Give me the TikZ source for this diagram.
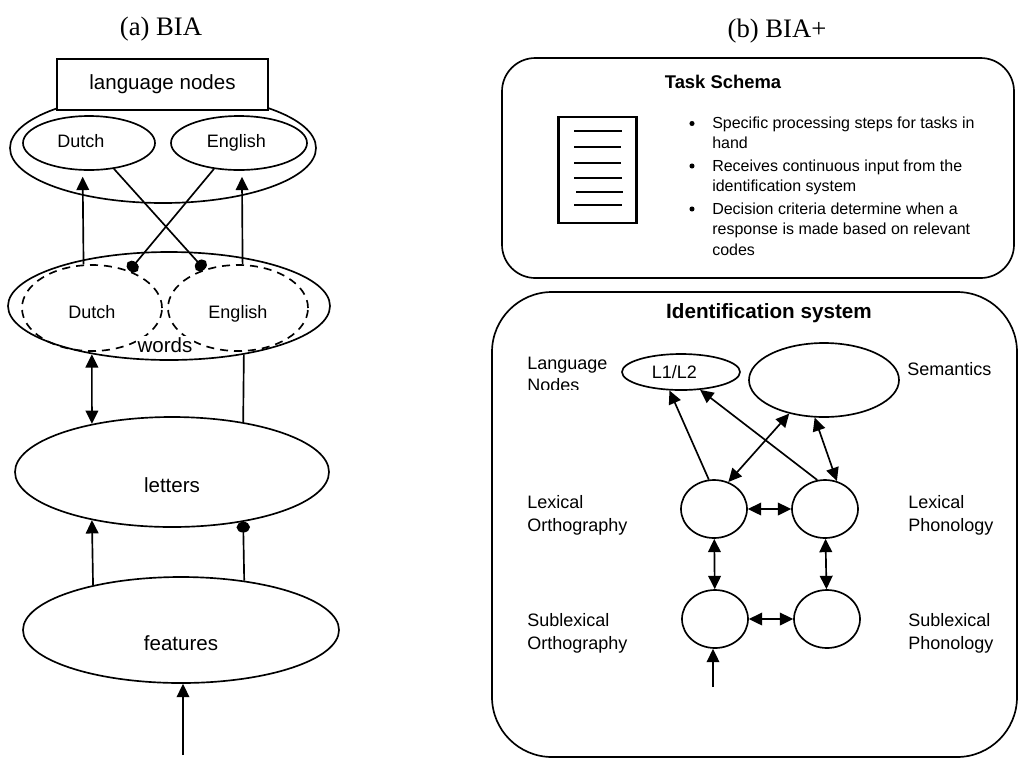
\documentclass[tikz,border=0pt]{standalone}
\usepackage{fontspec}
\setmainfont{Liberation Serif}
\setsansfont{Liberation Sans}
\usetikzlibrary{arrows.meta,shapes.geometric}

\begin{document}
\begin{tikzpicture}[x=0.75pt,y=-0.75pt,
  ln/.style={line width=1.25pt},
  ell/.style 2 args={ellipse, draw, line width=1.25pt, inner sep=0pt,
    minimum width=#1*0.75pt, minimum height=#2*0.75pt},
  dash ell/.style={dash pattern=on 6pt off 4.5pt},
  tip/.tip={Triangle[length=10pt,width=9.5pt]},
  arr/.style={ln, -tip},
  dbl/.style={ln, tip-tip},
  dotarr/.style={ln, -{Circle[length=8pt,width=10pt]}},
  big/.style={font=\sffamily\fontsize{15.4}{18}\selectfont},
  mid/.style={font=\sffamily\fontsize{13.5}{16}\selectfont},
  small/.style={font=\sffamily\fontsize{12}{14}\selectfont},
  ttl/.style={font=\rmfamily\fontsize{20}{24}\selectfont},
  side/.style={mid, anchor=base west, inner sep=0pt},
  bul/.style={small, anchor=base west, inner sep=0pt},
]
\useasboundingbox (0,0) rectangle (1020,758);

% ---------------- (a) BIA ----------------
\node[ttl, anchor=base] (titleA) at (161,35) {(a) BIA};

% language node layer
\node[ell={306}{110}] (langset) at (163,148) {};
\node[draw, fill=white, line width=1.25pt, inner sep=0pt,
      minimum width=211*0.75pt, minimum height=51*0.75pt, big] (langnodes) at (162.5,84.5) {language nodes};
\node[ell={132}{54}, mid] (dutchL) at (89,143) {\hspace*{-12pt}\vphantom{Dg}Dutch};
\node[ell={136}{54}, mid] (englishL) at (239,143) {\hspace*{-4pt}\vphantom{Dg}English};

% word layer
\node[ell={322}{108}] (words) at (169,306) {};
\node[ell={140}{86}, dash ell, mid] (dutchW) at (92,308) {\rule{0pt}{18.4pt}\vphantom{g}Dutch};
\node[ell={140}{86}, dash ell, mid] (englishW) at (238,308) {\rule{0pt}{18.4pt}\vphantom{g}English};
\node[big, fill=white, inner sep=1pt] (wordslbl) at (165,345) {words};

% letter and feature layers
\node[ell={314}{110}] (letters) at (172,472) {};
\node[big] (letterslbl) at (172,485) {letters};
\node[ell={316}{106}] (features) at (181,630) {};
\node[big] (featureslbl) at (181,643) {features};

% connections
\draw[arr, shorten >=4.5pt] (dutchW.101.9) -- (dutchL.257.5);
\draw[arr, shorten >=4.5pt] (englishW.84.7) -- (englishL.276.3);
\draw[dotarr] (dutchL.-46) -- (englishW.131);
\draw[dotarr] (englishL.226) -- (dutchW.45.7);
\draw[dbl] (words.212) -- (letters.149);
\draw[ln] (words.-33.3) -- (letters.35.1);
\draw[arr] (features.153.4) -- (letters.211);
\draw[dotarr] (features.38.7) -- (letters.-35.1);
\coordinate (stim) at (183,755);
\draw[arr] (stim) -- (stim |- features.south);

% ---------------- (b) BIA+ ----------------
\node[ttl, anchor=base] (titleB) at (777,37) {(b) BIA+};

% task schema
\node[draw, line width=1.25pt, rounded corners=25pt, inner sep=0pt,
      minimum width=512*0.75pt, minimum height=220*0.75pt] (task) at (758,168) {};
\node[font=\sffamily\bfseries\fontsize{13.8}{16}\selectfont] (tasktitle) at (723,82) {Task Schema};
\node[draw, line width=1.7pt, inner sep=0pt,
      minimum width=78*0.75pt, minimum height=106*0.75pt] (doc) at (597.5,170) {};
\foreach \yy/\xa/\xb in {131/574/622, 147/574/621, 163/574/621, 178/574/622, 192/576/623, 205/574/622}
  \draw[line width=1.25pt] (\xa,\yy) -- (\xb,\yy);

\foreach \yy in {123.5,166,209}
  \fill (692,\yy) circle[radius=1.9pt];
\node[bul] (b1a) at (712,128.5) {Specific processing steps for tasks in};
\node[bul] (b1b) at (712,148) {hand};
\node[bul] (b2a) at (712,171) {Receives continuous input from the};
\node[bul] (b2b) at (712,191.5) {identification system};
\node[bul] (b3a) at (712,214) {Decision criteria determine when a};
\node[bul] (b3b) at (712,234) {response is made based on relevant};
\node[bul] (b3c) at (712,255) {codes};

% identification system
\node[draw, line width=1.25pt, rounded corners=45pt, inner sep=0pt,
      minimum width=525*0.75pt, minimum height=465*0.75pt] (idsys) at (754.5,524.5) {};
\node[font=\sffamily\bfseries\fontsize{15.5}{18}\selectfont] (idtitle) at (769,313) {Identification system};

\node[ell={118}{36}, mid] (lang2) at (681,372) {\hspace*{-10pt}L1/L2};
\node[ell={150}{74}] (sem) at (824,380) {};
\node[ell={66}{58}] (lexorth) at (714,509) {};
\node[ell={66}{58}] (lexphon) at (825,509) {};
\node[ell={66}{58}] (suborth) at (715,619) {};
\node[ell={66}{58}] (subphon) at (827,619) {};

\draw[arr] (lexorth.100) -- (lang2.238.1);
\draw[arr] (lexphon.105) -- (lang2.-43.5);
\draw[dbl] (lexorth.62) -- (sem.224);
\draw[dbl] (sem.256.3) -- (lexphon.67.5);
\draw[dbl] (lexorth) -- (lexphon);
\draw[dbl] (suborth) -- (subphon);
\draw[dbl] (lexorth) -- (suborth);
\draw[dbl] (lexphon) -- (subphon);
\coordinate (input) at (713,687);
\draw[arr] (input) -- (input |- suborth.south);

% side labels
\node[side] (lnA) at (527,369.5) {Language};
\begin{scope}
  \clip (500,375) rectangle (620,389.5);
  \node[side] (lnB) at (527,391.5) {Nodes};
\end{scope}
\node[side] (semlbl) at (907,375.5) {Semantics};
\node[side] (loA) at (527,508.5) {Lexical};
\node[side] (loB) at (527,531.5) {Orthography};
\node[side] (lpA) at (908,508.5) {Lexical};
\node[side] (lpB) at (908,531.5) {Phonology};
\node[side] (soA) at (527,626.5) {Sublexical};
\node[side] (soB) at (527,649.5) {Orthography};
\node[side] (spA) at (908,626.5) {Sublexical};
\node[side] (spB) at (908,649.5) {Phonology};
\end{tikzpicture}
\end{document}
